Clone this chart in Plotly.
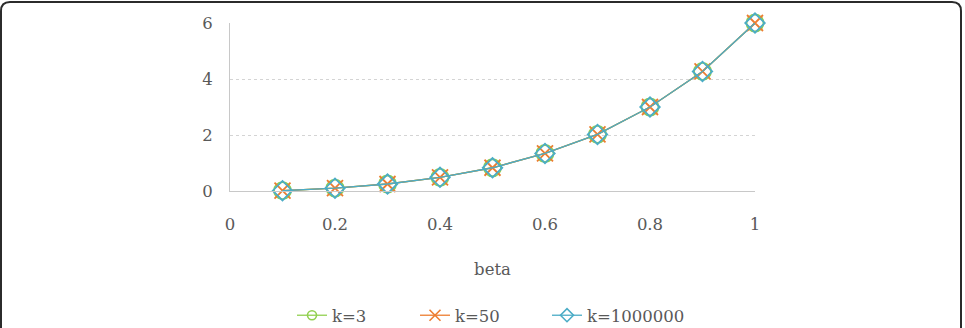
import plotly.graph_objects as go

beta = [0.1, 0.2, 0.3, 0.4, 0.5, 0.6, 0.7, 0.8, 0.9, 1.0]
k3 = [0.01, 0.1, 0.25, 0.49, 0.83, 1.34, 2.02, 3.0, 4.27, 6.0]
k50 = [0.01, 0.1, 0.25, 0.49, 0.83, 1.34, 2.02, 3.0, 4.27, 6.0]
k1e6 = [0.01, 0.1, 0.25, 0.49, 0.83, 1.34, 2.02, 3.0, 4.27, 6.0]
names = ["k=3", "k=50", "k=1000000"]
xtick_vals = [0, 0.2, 0.4, 0.6, 0.8, 1]
xtick_text = ["0", "0.2", "0.4", "0.6", "0.8", "1"]
ytick_vals = [0, 2, 4, 6]

GREEN = "#92D050"
ORANGE = "#ED7D31"
BLUE = "#4BACC6"
TEXT = "#595959"
FONT = "DejaVu Serif"
FS = 16.5

# plot area: x 230..755 px, y 23..191 px
L, R, T, B = 230, 755, 23, 191
W, H = 965, 328
pw, ph = R - L, B - T
def px(x):
    return (x - L) / pw
def py(y):
    return (B - y) / ph

fig = go.Figure()
series = [
    (k3, names[0], GREEN, "circle-open", 17, 9, "legend", 297),
    (k50, names[1], ORANGE, "x-thin-open", 16, 11, "legend2", 420),
    (k1e6, names[2], BLUE, "diamond-open", 15, 10, "legend3", 552),
]
for vals, nm, col, sym, sz, lsz, lg, lx in series:
    fig.add_trace(go.Scatter(
        x=beta, y=vals, mode="lines+markers", name=nm, showlegend=False,
        line=dict(color=col, width=1.3),
        marker=dict(symbol=sym, size=sz, color=col, line=dict(color=col, width=1.8)),
        cliponaxis=False,
    ))
legend_layout = {}
for vals, nm, col, sym, sz, lsz, lg, lx in series:
    fig.add_trace(go.Scatter(
        x=[None], y=[None], mode="lines+markers", name=nm, showlegend=True, legend=lg,
        line=dict(color=col, width=1.3),
        marker=dict(symbol=sym, size=lsz, color=col, line=dict(color=col, width=1.6)),
    ))
    legend_layout[lg] = dict(
        orientation="h", x=px(lx - 5), xanchor="left", y=py(333), yanchor="bottom",
        font=dict(family=FONT, size=FS, color=TEXT), bgcolor="rgba(0,0,0,0)",
    )

x0, x1, y0, y1 = 1, 961, 2, 345
r = 9
path = (
    f"M {px(x0+r)},{py(y0)} L {px(x1-r)},{py(y0)} "
    f"Q {px(x1)},{py(y0)} {px(x1)},{py(y0+r)} "
    f"L {px(x1)},{py(y1)} L {px(x0)},{py(y1)} L {px(x0)},{py(y0+r)} "
    f"Q {px(x0)},{py(y0)} {px(x0+r)},{py(y0)} Z"
)
fig.add_shape(type="path", path=path, xref="paper", yref="paper",
              line=dict(color="#2b2b2b", width=2), fillcolor="rgba(0,0,0,0)", layer="below")

fig.update_layout(
    width=W, height=H,
    margin=dict(l=L, r=W - R, t=T, b=H - B, autoexpand=False),
    paper_bgcolor="white", plot_bgcolor="white",
    font=dict(family=FONT, size=FS, color=TEXT),
    xaxis=dict(
        range=[0, 1], tickvals=xtick_vals, ticktext=xtick_text,
        showgrid=False, zeroline=False, showline=True, linecolor="#c8c8c8", linewidth=1,
        ticks="", ticklabelstandoff=18, automargin=False,
        title=dict(text="beta", standoff=30, font=dict(family=FONT, size=FS, color=TEXT)),
        fixedrange=True,
    ),
    yaxis=dict(
        range=[0, 6], tickvals=ytick_vals,
        showgrid=True, gridcolor="#d4d4d4", griddash="dot", gridwidth=1,
        zeroline=False, showline=True, linecolor="#c8c8c8", linewidth=1,
        ticks="", ticklabelstandoff=13, automargin=False,
        fixedrange=True,
    ),
    showlegend=True,
    **legend_layout,
)

fig.write_html("out.html")
